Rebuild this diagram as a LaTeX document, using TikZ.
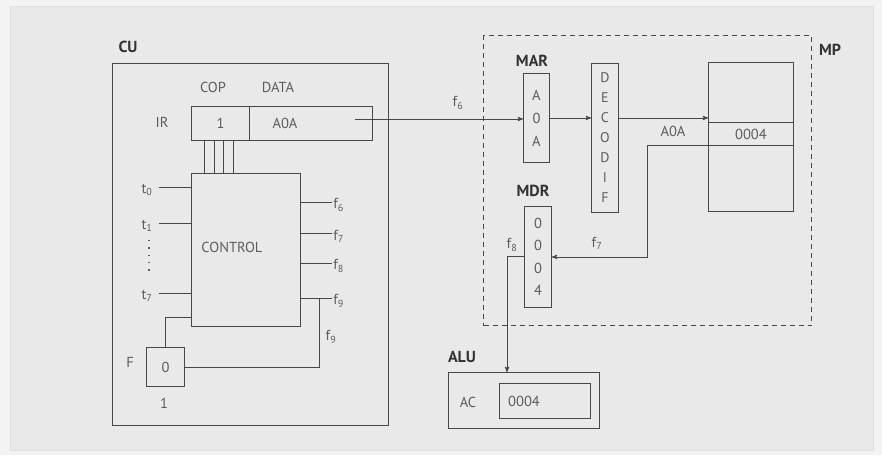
\documentclass[tikz,border=0pt]{standalone}
\usepackage{fontspec}
\setmainfont{PT Sans}
\usetikzlibrary{arrows,positioning,calc}
\definecolor{panel}{HTML}{E9E9E9}
\definecolor{frame}{HTML}{F3F3F3}
\definecolor{ink}{HTML}{474747}
\definecolor{txt}{HTML}{5C5C5C}
\begin{document}
\begin{tikzpicture}[>=stealth', x=1pt, y=-1pt, line width=0.9pt, font=\fontsize{14.5}{17}\selectfont]
        \tikzstyle{box}=[rectangle, draw=ink, inner sep=0pt, anchor=north west]
        \tikzstyle{title}=[font=\fontsize{16}{18}\selectfont\bfseries, text=black!80]
        \tikzstyle{lbl}=[inner sep=1pt, text=txt]
        \tikzstyle{wire}=[draw=ink]
        \tikzstyle{stack}=[align=center, text=txt]
        % background
        \fill[frame] (0,0) rectangle (882,455);
        \filldraw[fill=panel, draw=black!12] (10,6) rectangle (873,450);
        % control unit
        \node[box, minimum width=276pt, minimum height=362pt] (cu)   at (112,63)  {};
        \node[box, minimum width=58pt,  minimum height=34pt]  (cop)  at (191,106) {};
        \node[box, minimum width=123pt, minimum height=34pt]  (data) at (249,106) {};
        \node[box, minimum width=109pt, minimum height=153pt] (ctrl) at (191,173) {};
        \node[box, minimum width=38pt,  minimum height=39pt]  (flag) at (146,347) {};
        \node[title] (cutitle) at (128,47) {CU};
        \node[lbl] at (213,87)  {COP};
        \node[lbl] at (278,87)  {DATA};
        \node[lbl] at (162,122) {IR};
        \node[lbl] at (cop.center) {1};
        \node[lbl] at (285,123) {A0A};
        \node[lbl] at (ctrl.center) [yshift=3pt, xshift=-14pt] {CONTROL};
        \node[lbl] at (flag.center) {0};
        \node[lbl] at (130,362) {F};
        \node[lbl] at (164,403) {1};
        % bus from COP
        \foreach \x in {204,214,223,233}
            \draw[wire] (cop.south -| \x,0) -- (ctrl.north -| \x,0);
        % clock inputs
        \foreach \y/\t in {187/0,223/1,293/7} {
            \draw[wire] (159,\y) -- (ctrl.west |- 0,\y);
            \node[lbl] at (147,\y+3) {t\textsubscript{\t}};
        }
        \draw[txt, line width=1.3pt, dash pattern=on 1.3pt off 6pt] (149,240) -- (149,272);
        % control outputs
        \foreach \y/\f in {202/6,233/7,263/8,298/9}
            \draw[wire] (ctrl.east |- 0,\y) -- ++(31,0) node[lbl, right, yshift=-3pt] {f\textsubscript{\f}};
        \coordinate (f9j) at (319,298);
        \draw[wire] (f9j) |- (flag.east);
        \node[lbl] at (331,337) {f\textsubscript{9}};
        \draw[wire] (flag.north) |- (ctrl.west |- 0,317);
        % main memory
        \node[box, line width=1.1pt, dash pattern=on 5pt off 4pt, minimum width=328pt, minimum height=290pt] (mp) at (483,35) {};
        \node[title] at (830,50) {MP};
        \node[box, minimum width=26pt, minimum height=89pt]  (mar)  at (523,73)  {};
        \node[box, minimum width=27pt, minimum height=149pt] (dec)  at (591,63)  {};
        \node[box, minimum width=85pt, minimum height=149pt] (mem)  at (708,62)  {};
        \node[box, minimum width=85pt, minimum height=23pt]  (cell) at (708,122) {};
        \node[box, minimum width=27pt, minimum height=101pt] (mdr)  at (524,206) {};
        \node[title] at (532,61)  {MAR};
        \node[title] at (533,191) {MDR};
        \node[stack, font=\fontsize{14.5}{23}\selectfont] at (mar.center) {A\\0\\A};
        \node[stack, font=\fontsize{14}{20}\selectfont] at (dec.center) {D\\E\\C\\O\\D\\I\\F};
        \node[stack, font=\fontsize{14.5}{22.3}\selectfont] at (mdr.center) {0\\0\\0\\4};
        \node[lbl] at (cell.center) {0004};
        % arithmetic unit
        \node[box, minimum width=151pt, minimum height=56pt] (alu) at (448,372) {};
        \node[box, minimum width=91pt,  minimum height=35pt] (ac)  at (499,383) {};
        \node[title] at (462,357) {ALU};
        \node[lbl] at (468,402) {AC};
        \node[lbl] at (524,401) {0004};
        % transfers
        \coordinate (irout) at (355,119);
        \draw[wire, ->] (irout) -- (mar.west |- irout);
        \node[lbl] at (458,103) {f\textsubscript{6}};
        \draw[wire, ->] (mar.east) -- (mar.east -| dec.west);
        \draw[wire, ->] (dec.east |- mar.east) -- (mem.west |- mar.east);
        \node[lbl] at (673,131) {A0A};
        \draw[wire, ->] (cell.south west) -- ++(-61,0) |- (mdr.east);
        \node[lbl] at (597,243) {f\textsubscript{7}};
        \coordinate (f8c) at (507,256);
        \draw[wire, ->] (mdr.west |- f8c) -- (f8c) -- (f8c |- alu.north);
        \node[lbl] at (512,245) {f\textsubscript{8}};
\end{tikzpicture}
\end{document}
